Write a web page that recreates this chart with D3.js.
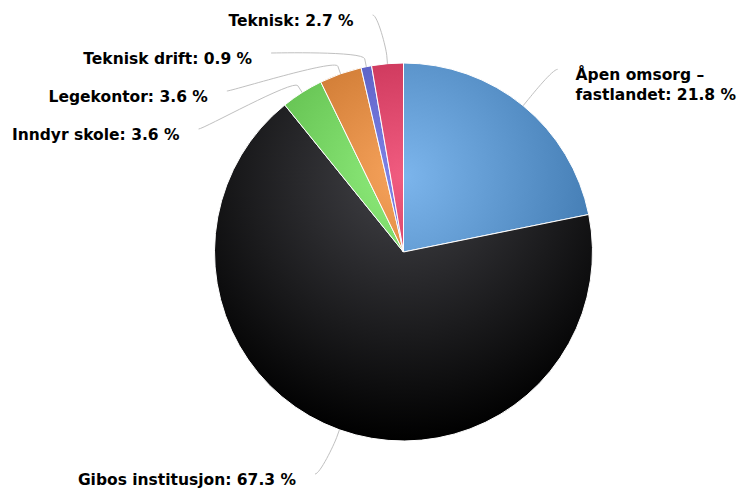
<!DOCTYPE html>
<html>
<head>
<meta charset="utf-8">
<script src="https://cdn.jsdelivr.net/npm/d3@7"></script>
<style>
  html, body { margin: 0; padding: 0; background: #fff; }
  svg { display: block; }
  .lbl { font-family: "DejaVu Sans", Verdana, sans-serif; font-weight: bold; font-size: 15.5px; fill: #000; }
</style>
</head>
<body>
<div id="chart"></div>
<script>
"use strict";

// chart data (clockwise from 12 o'clock)
const categories = ["Åpen omsorg – fastlandet", "Gibos institusjon", "Inndyr skole", "Legekontor", "Teknisk drift", "Teknisk"];
const shares = [21.8, 67.3, 3.6, 3.6, 0.9, 2.7];
const colors = ["#7cb5ec", "#434348", "#90ed7d", "#f7a35c", "#8085e9", "#f15c80"];

const width = 738;
const height = 490;
const cx = 403.5;
const cy = 252;
const radius = 189;
const labelRadius = 236;   // where labels would like to sit
const anchorRadius = 239;  // circle the connector starts on
const breakOut = 8;        // second break, just outside the pie
const lineGap = 38;        // min distance between stacked labels

let svg = d3.select("#chart")
            .append("svg")
            .attr("width", width)
            .attr("height", height);

// radial gradients like Highcharts' gradient pie demo
function darken(c)
{
    let rgb = d3.rgb(c);
    let k = 0.3 * 255;
    return d3.rgb(Math.max(0, rgb.r - k), Math.max(0, rgb.g - k), Math.max(0, rgb.b - k)).formatHex();
}

// gradient coords are in the local space of the translated pie group
let defs = svg.append("defs");
colors.forEach((c, i) =>
{
    let g = defs.append("radialGradient")
                .attr("id", "grad" + i)
                .attr("gradientUnits", "userSpaceOnUse")
                .attr("cx", 0)
                .attr("cy", -0.4 * radius)
                .attr("r", 1.4 * radius);
    g.append("stop").attr("offset", 0).attr("stop-color", c);
    g.append("stop").attr("offset", 1).attr("stop-color", darken(c));
});

let pie = d3.pie()
            .sort(null)
            .value((d) => d);
let arcs = pie(shares);

let arc = d3.arc()
            .innerRadius(0)
            .outerRadius(radius);

let plot = svg.append("g")
              .attr("transform", "translate(" + cx + "," + cy + ")");

plot.selectAll("path.slice")
    .data(arcs)
    .enter()
    .append("path")
    .attr("class", "slice")
    .attr("d", arc)
    .attr("fill", (d, i) => "url(#grad" + i + ")")
    .attr("stroke", "#fff")
    .attr("stroke-width", 1)
    .attr("stroke-linejoin", "round");

// labels
let fmt = d3.format(".1f");
let labels = arcs.map((d, i) =>
{
    let a = (d.startAngle + d.endAngle) / 2;
    return {
        i: i,
        angle: a,
        left: a > Math.PI,
        text: categories[i] + ": " + fmt(shares[i]) + " %",
        target: cy - labelRadius * Math.cos(a)
    };
});

let layer = svg.append("g");

labels.forEach((l) =>
{
    l.node = layer.append("text")
                  .attr("class", "lbl")
                  .attr("text-anchor", l.left ? "end" : "start");
});

function wrap(text, maxW)
{
    let words = text.split(" ");
    let lines = [];
    let cur = "";
    let probe = layer.append("text").attr("class", "lbl");
    words.forEach((w) =>
    {
        let test = cur ? cur + " " + w : w;
        probe.text(test);
        if (cur && probe.node().getComputedTextLength() > maxW)
        {
            lines.push(cur);
            cur = w;
        }
        else
            cur = test;
    });
    lines.push(cur);
    probe.remove();
    return lines;
}

// simple Highcharts-like distribution: merge overlapping groups and clamp
function distribute(list, minY, maxY)
{
    list.sort((a, b) => a.target - b.target);
    let groups = list.map((l) => ({items: [l], size: l.size, target: l.target}));
    let moved = true;
    while (moved)
    {
        moved = false;
        groups.forEach((g) =>
        {
            g.pos = g.target - g.size / 2;
            if (g.pos < minY) g.pos = minY;
            if (g.pos + g.size > maxY) g.pos = maxY - g.size;
        });
        for (let k = 0; k < groups.length - 1; k++)
        {
            let a = groups[k], b = groups[k + 1];
            if (a.pos + a.size > b.pos)
            {
                let items = a.items.concat(b.items);
                groups.splice(k, 2, {items: items, size: a.size + b.size, target: d3.mean(items, (l) => l.target)});
                moved = true;
                break;
            }
        }
    }
    groups.forEach((g) =>
    {
        let p = g.pos;
        g.items.forEach((l) =>
        {
            l.y = p + l.size / 2;
            p += l.size;
        });
    });
}

[true, false].forEach((side) =>
{
    let list = labels.filter((l) => l.left === side);
    list.forEach((l) => { l.size = lineGap; });
    distribute(list, 15 - lineGap / 2, height - 15 + lineGap / 2);
});

labels.forEach((l) =>
{
    let dy = Math.min(Math.abs(l.y - cy), anchorRadius);
    let xs = cx + (l.left ? -1 : 1) * Math.sqrt(anchorRadius * anchorRadius - dy * dy);
    let tx = l.left ? xs - 19 : xs + 18;
    let lines = l.left ? [l.text] : wrap(l.text, width - tx - 1);
    l.node.selectAll("tspan")
          .data(lines)
          .enter()
          .append("tspan")
          .attr("x", tx)
          .attr("y", (d, k) => l.y + 11 + k * 20)
          .text((d) => d);

    // connector: label -> soft curve -> just outside pie -> slice edge
    let s = Math.sin(l.angle), c = Math.cos(l.angle);
    let ex = cx + radius * s, ey = cy - radius * c;
    let bx = cx + (radius + breakOut) * s, by = cy - (radius + breakOut) * c;
    let dir = l.left ? 1 : -1;
    let p = d3.path();
    p.moveTo(xs, l.y);
    p.bezierCurveTo(xs + dir * 5, l.y, 2 * bx - ex, 2 * by - ey, bx, by);
    p.lineTo(ex, ey);
    layer.insert("path", "text")
         .attr("d", p.toString())
         .attr("fill", "none")
         .attr("stroke", "#c0c0c0")
         .attr("stroke-width", 1);
});
</script>
</body>
</html>
